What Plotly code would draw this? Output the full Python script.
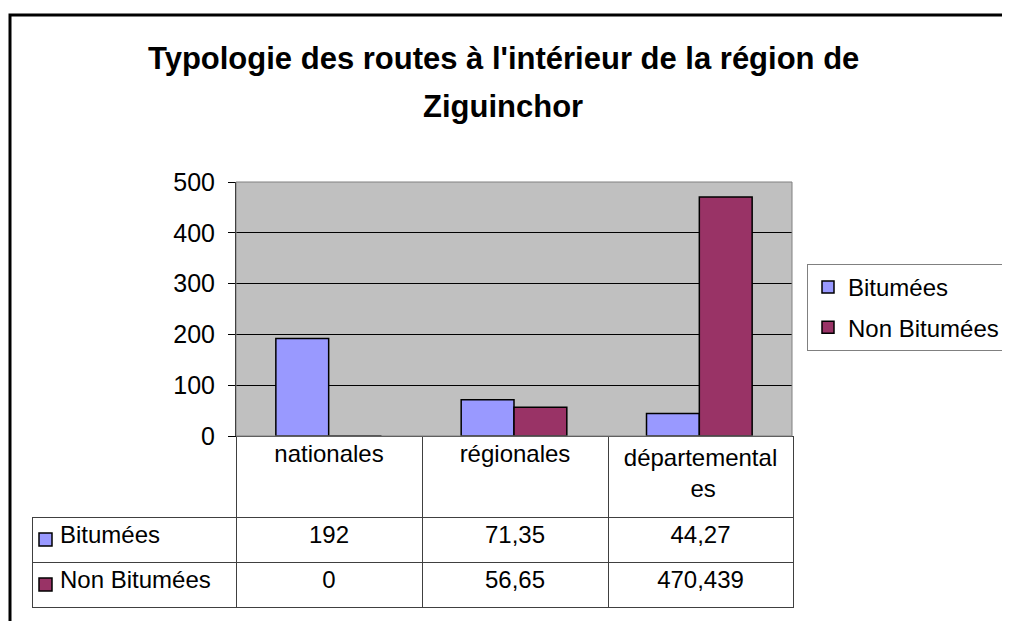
import plotly.graph_objects as go

categories = ["nationales", "régionales", "départementales"]
# the table wraps the long label; second line padded so it sits centred
header_labels = ["nationales", "régionales",
                 "départemental<br>" + "\u00a0" * 10 + "es"]
series_names = ["Bitumées", "Non Bitumées"]
bitumees = [192, 71.35, 44.27]
non_bitumees = [0, 56.65, 470.439]
colors = ["#9999FF", "#993366"]
y_ticks = [0, 100, 200, 300, 400, 500]

W, H = 1010, 621
OFF = 8  # page body margin
FONT = "Arial, Liberation Sans, sans-serif"

# table geometry (pixels)
TBL_TOP, HEAD_H, ROW_H = 436, 81, 45


def fmt(v):
    # french decimal comma, as in the data table
    s = ("%g" % v) if v != int(v) else str(int(v))
    return s.replace(".", ",")


def px_x(x):
    return (x - OFF) / W


def px_y(y):
    return 1 - (y - OFF) / H


fig = go.Figure()
for name, vals, col in zip(series_names, [bitumees, non_bitumees], colors):
    fig.add_trace(go.Bar(
        name=name, x=categories, y=vals,
        marker=dict(color=col, line=dict(color="black", width=1.5)),
        legendgroup=name, hoverinfo="skip",
    ))

# data table under the plot
row_labels = ["\u00a0\u00a0\u00a0" + n.replace(" ", "\u00a0") for n in series_names]
cols = [row_labels] + [[fmt(b), fmt(n)] for b, n in zip(bitumees, non_bitumees)]
tbl_bottom = TBL_TOP + HEAD_H + ROW_H * len(series_names)
fig.add_trace(go.Table(
    domain=dict(x=[px_x(32), px_x(793)], y=[px_y(tbl_bottom + 3), px_y(TBL_TOP)]),
    columnwidth=[204, 186, 186, 185],
    header=dict(
        values=[""] + header_labels,
        height=HEAD_H,
        align="center",
        fill=dict(color=["rgba(0,0,0,0)", "white", "white", "white"]),
        line=dict(color=["rgba(0,0,0,0)", "#404040", "#404040", "#404040"], width=1),
        font=dict(family=FONT, size=24, color="black"),
    ),
    cells=dict(
        values=cols,
        height=ROW_H,
        align=["left", "center", "center", "center"],
        fill=dict(color="white"),
        line=dict(color="#404040", width=1),
        font=dict(family=FONT, size=24, color="black"),
    ),
))

# legend keys inside the table's first column
key_shapes = []
for i, col in enumerate(colors):
    cy = TBL_TOP + HEAD_H + ROW_H * i + ROW_H / 2
    key_shapes.append(dict(
        type="rect", xref="paper", yref="paper",
        x0=px_x(39), x1=px_x(52), y0=px_y(cy + 6.5), y1=px_y(cy - 6.5),
        fillcolor=col, line=dict(color="black", width=1.5),
    ))

fig.update_layout(
    width=W, height=H,
    margin=dict(l=0, r=0, t=0, b=0, autoexpand=False),
    paper_bgcolor="white",
    plot_bgcolor="#C0C0C0",
    barmode="group",
    bargap=0.43,
    bargroupgap=0,
    font=dict(family=FONT, size=24, color="black"),
    xaxis=dict(
        domain=[px_x(236), px_x(792)],
        type="category", range=[-0.5, 2.5],
        showticklabels=False, ticks="",
        showline=True, linecolor="black", linewidth=1,
        showgrid=False, zeroline=False, fixedrange=True,
    ),
    yaxis=dict(
        domain=[px_y(436), px_y(182)],
        range=[0, 500], tickvals=y_ticks,
        ticks="outside", ticklen=7, tickcolor="black",
        ticklabelstandoff=8,
        showline=True, linecolor="black", linewidth=1,
        showgrid=True, gridcolor="black", gridwidth=1,
        zeroline=False, fixedrange=True,
        tickfont=dict(size=25),
    ),
    legend=dict(
        x=px_x(807), y=px_y(264), xanchor="left", yanchor="top",
        bordercolor="#808080", borderwidth=1, bgcolor="white",
        font=dict(size=24), tracegroupgap=6, traceorder="grouped",
    ),
    shapes=[
        # plot area border
        dict(type="rect", xref="x domain", yref="y domain",
             x0=0, x1=1, y0=0, y1=1, line=dict(color="#808080", width=1)),
        # chart frame, cut off at right and bottom
        dict(type="rect", xref="paper", yref="paper",
             x0=px_x(10), x1=1.05, y0=-0.05, y1=px_y(15),
             line=dict(color="black", width=3)),
    ] + key_shapes,
    annotations=[
        dict(text="<b>Typologie des routes à l'intérieur de la région de</b>",
             xref="paper", yref="paper", x=px_x(503), y=px_y(58),
             yanchor="middle", showarrow=False, font=dict(size=31)),
        dict(text="<b>Ziguinchor</b>",
             xref="paper", yref="paper", x=px_x(503), y=px_y(106),
             yanchor="middle", showarrow=False, font=dict(size=31)),
    ],
)

fig.write_html("out.html")
